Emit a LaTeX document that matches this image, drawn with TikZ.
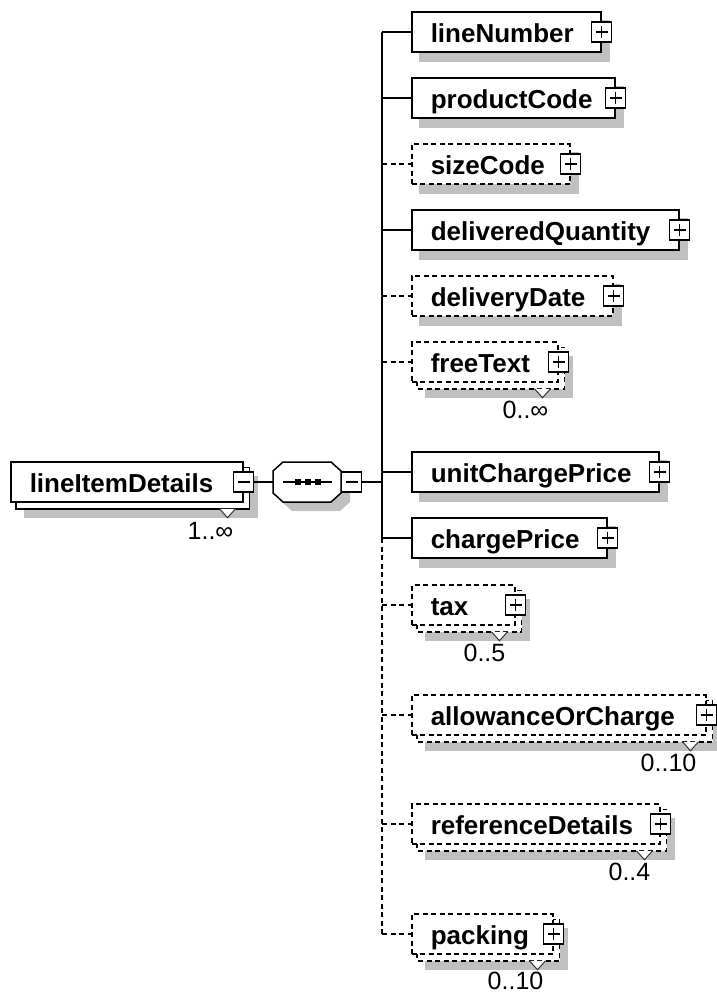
\documentclass[tikz,border=0pt]{standalone}
\usepackage{fontspec}
\setmainfont{Liberation Sans}
\usetikzlibrary{calc}
\pgfdeclarelayer{shadowL}
\pgfdeclarelayer{backL}
\pgfsetlayers{shadowL,backL,main}
\definecolor{shadowc}{RGB}{192,192,192}
\tikzset{
  boxline/.style={line width=1.5pt, draw=black},
  dsh/.style={dash pattern=on 5pt off 3.5pt},
  elembox/.style={boxline, fill=white, anchor=west, minimum height=40pt,
    inner xsep=19pt, inner ysep=0pt, text width=#1, align=left,
    font=\fontsize{26}{30}\selectfont\bfseries, text height=20pt, text depth=0pt},
  optbox/.style={elembox=#1, dsh},
  btn/.style={boxline, solid, fill=white, minimum size=20pt, inner sep=0pt, outer sep=0pt},
  plusbtn/.style={btn, path picture={\draw[line width=1.6pt]
      ([xshift=4pt]path picture bounding box.west) -- ([xshift=-4pt]path picture bounding box.east)
      ([yshift=4pt]path picture bounding box.south) -- ([yshift=-4pt]path picture bounding box.north);}},
  minusbtn/.style={btn, path picture={\draw[line width=1.6pt]
      ([xshift=4pt]path picture bounding box.west) -- ([xshift=-4pt]path picture bounding box.east);}},
  conn/.style={line width=1.5pt},
  occ/.style={font=\fontsize{25}{29}\selectfont, anchor=base east, inner sep=0pt},
  vmark/.style={line width=1pt, draw=black!80, fill=white},
}
\newcommand{\singleshadow}[1]{%
  \begin{pgfonlayer}{shadowL}
    \fill[shadowc] ($(#1.north west)+(8,9)$) rectangle ($(#1.south east)+(8,9)$);
  \end{pgfonlayer}}
\newcommand{\stackback}[2]{%
  \begin{pgfonlayer}{backL}
    \draw[boxline, fill=white, #2] ($(#1.north west)+(6,6)$) rectangle ($(#1.south east)+(6,6)$);
  \end{pgfonlayer}
  \begin{pgfonlayer}{shadowL}
    \fill[shadowc] ($(#1.north west)+(14,15)$) rectangle ($(#1.south east)+(14,15)$);
  \end{pgfonlayer}
  \coordinate (#1-v) at ($(#1.south east)+(-16,6)$);
  \draw[vmark] ($(#1-v)+(-8,0)$) -- ($(#1-v)+(0,9)$) -- ($(#1-v)+(8,0)$);}
\begin{document}
\begin{tikzpicture}[x=1pt,y=-1pt]
\useasboundingbox (0,0) rectangle (716,994);
\begin{pgfonlayer}{shadowL}
  \fill[white] (0,0) rectangle (716,994);
\end{pgfonlayer}

% root element
\node[elembox=194pt] (lid) at (10,482) {lineItemDetails};
\stackback{lid}{solid}
\node[minusbtn] (lidb) at (lid.east) {};
\node[occ] (lidl) at ($(lid-v)+(6,31)$) {1..∞};

% sequence compositor
\node[minimum width=68pt, minimum height=40pt, inner sep=0pt, outer sep=0pt] (seq) at (307,482) {};
\begin{pgfonlayer}{shadowL}
  \fill[shadowc, transform canvas={xshift=9pt, yshift=-9pt}]
    ($(seq.north west)+(10,0)$) -- ($(seq.north east)+(-10,0)$) -- ($(seq.north east)+(0,9)$)
    -- ($(seq.south east)+(0,-9)$) -- ($(seq.south east)+(-10,0)$) -- ($(seq.south west)+(10,0)$)
    -- ($(seq.south west)+(0,-9)$) -- ($(seq.north west)+(0,9)$) -- cycle;
\end{pgfonlayer}
\draw[boxline, fill=white]
    ($(seq.north west)+(10,0)$) -- ($(seq.north east)+(-10,0)$) -- ($(seq.north east)+(0,9)$)
    -- ($(seq.south east)+(0,-9)$) -- ($(seq.south east)+(-10,0)$) -- ($(seq.south west)+(10,0)$)
    -- ($(seq.south west)+(0,-9)$) -- ($(seq.north west)+(0,9)$) -- cycle;
\draw[line width=1.5pt] ($(seq.west)+(10,0)$) -- ($(seq.east)+(-9,0)$);
\fill ($(seq.center)+(-12.5,-3)$) rectangle +(6,6);
\fill ($(seq.center)+(-2.5,-3)$) rectangle +(6,6);
\fill ($(seq.center)+(7.5,-3)$) rectangle +(6,6);
\node[minusbtn] (seqb) at ($(seq.east)+(10.5,0)$) {};
\draw[conn] (lidb.east) -- (seq.west);

\coordinate (trunk) at (382,482);
\draw[conn] (seqb.east) -- (trunk);

% children
\node[elembox=151pt] (ln) at (411,32) {lineNumber};
\singleshadow{ln}
\node[plusbtn] (lnb) at (ln.east) {};

\node[elembox=165pt] (pc) at (411,98) {productCode};
\singleshadow{pc}
\node[plusbtn] (pcb) at (pc.east) {};

\node[optbox=120pt] (sc) at (411,164) {sizeCode};
\singleshadow{sc}
\node[plusbtn] (scb) at (sc.east) {};

\node[elembox=229pt] (dq) at (411,230) {deliveredQuantity};
\singleshadow{dq}
\node[plusbtn] (dqb) at (dq.east) {};

\node[optbox=163pt] (dd) at (411,296) {deliveryDate};
\singleshadow{dd}
\node[plusbtn] (ddb) at (dd.east) {};

\node[optbox=108pt] (ft) at (411,362) {freeText};
\stackback{ft}{dsh}
\node[plusbtn] (ftb) at (ft.east) {};
\node[occ] (ftl) at ($(ft-v)+(6,30)$) {0..∞};

\node[elembox=209pt] (ucp) at (411,472) {unitChargePrice};
\singleshadow{ucp}
\node[plusbtn] (ucpb) at (ucp.east) {};

\node[elembox=157pt] (cp) at (411,538) {chargePrice};
\singleshadow{cp}
\node[plusbtn] (cpb) at (cp.east) {};

\node[optbox=65pt] (tax) at (411,605) {tax};
\stackback{tax}{dsh}
\node[plusbtn] (taxb) at (tax.east) {};
\node[occ] (taxl) at ($(tax-v)+(6,30)$) {0..5};

\node[optbox=256pt] (aoc) at (411,715) {allowanceOrCharge};
\stackback{aoc}{dsh}
\node[plusbtn] (aocb) at (aoc.east) {};
\node[occ] (aocl) at ($(aoc-v)+(6,30)$) {0..10};

\node[optbox=210pt] (rd) at (411,824) {referenceDetails};
\stackback{rd}{dsh}
\node[plusbtn] (rdb) at (rd.east) {};
\node[occ] (rdl) at ($(rd-v)+(6,30)$) {0..4};

\node[optbox=103pt] (pk) at (411,934) {packing};
\stackback{pk}{dsh}
\node[plusbtn] (pkb) at (pk.east) {};
\node[occ] (pkl) at ($(pk-v)+(6,29)$) {0..10};

% trunk
\draw[conn] (ln.west -| trunk) -- (cp.west -| trunk);
\draw[conn, dsh] (cp.west -| trunk) -- (pk.west -| trunk);

% connectors
\draw[conn] (ln.west -| trunk) -- (ln.west);
\draw[conn] (pc.west -| trunk) -- (pc.west);
\draw[conn, dsh] (sc.west -| trunk) -- (sc.west);
\draw[conn] (dq.west -| trunk) -- (dq.west);
\draw[conn, dsh] (dd.west -| trunk) -- (dd.west);
\draw[conn, dsh] (ft.west -| trunk) -- (ft.west);
\draw[conn] (ucp.west -| trunk) -- (ucp.west);
\draw[conn] (cp.west -| trunk) -- (cp.west);
\draw[conn, dsh] (tax.west -| trunk) -- (tax.west);
\draw[conn, dsh] (aoc.west -| trunk) -- (aoc.west);
\draw[conn, dsh] (rd.west -| trunk) -- (rd.west);
\draw[conn, dsh] (pk.west -| trunk) -- (pk.west);
\end{tikzpicture}
\end{document}
